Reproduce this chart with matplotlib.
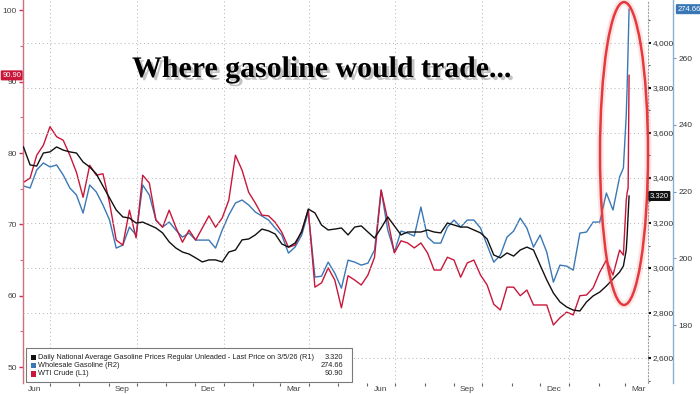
import matplotlib
matplotlib.use("Agg")
import matplotlib.pyplot as plt
import matplotlib.dates as mdates
import matplotlib.ticker as mticker
import matplotlib.patheffects as pe
from matplotlib.patches import Ellipse, Rectangle
import pandas as pd

# ---------------- data ----------------
weekly_start = "2024-06-03"
weekly_end = "2026-02-23"
final_days = ["2026-02-27", "2026-03-02", "2026-03-03", "2026-03-04", "2026-03-05"]

wti_crude = [
    75.9, 76.5, 79.7, 81.1, 83.7, 82.3, 81.8, 79.7, 77.3, 73.8,
    78.3, 76.9, 77.1, 73.0, 67.8, 67.1, 72.0, 68.1, 76.9, 75.8,
    70.6, 69.6, 72.0, 69.6, 67.5, 69.2, 67.8, 69.5, 71.2, 69.6,
    70.9, 73.4, 79.7, 77.6, 74.5, 73.0, 71.3, 71.2, 70.3, 68.9,
    66.8, 67.1, 69.1, 72.0, 61.2, 61.8, 63.9, 62.2, 58.3, 62.8,
    62.2, 61.5, 62.9, 65.4, 74.8, 70.6, 66.0, 67.7, 67.4, 66.7,
    67.4, 66.0, 63.6, 63.6, 65.4, 65.0, 62.6, 64.6, 65.0, 62.9,
    61.5, 58.8, 58.0, 61.2, 61.2, 60.0, 60.8, 58.7, 58.7, 58.7,
    55.9, 56.9, 57.7, 57.3, 60.0, 60.1, 61.1, 63.3, 65.0, 62.9,
    66.4,
    65.7, 73.4, 74.5, 75.1, 90.90,
]

wholesale_gasoline = [
    221.7, 221.1, 226.5, 228.6, 227.4, 228.0, 225.0, 221.1, 219.0, 213.6,
    222.0, 219.9, 216.0, 211.5, 203.1, 204.0, 209.4, 207.0, 222.0, 219.0,
    211.5, 209.4, 210.9, 208.5, 206.4, 207.6, 205.5, 205.5, 205.5, 203.1,
    208.5, 213.0, 216.6, 217.5, 216.0, 213.9, 212.7, 211.5, 209.1, 207.0,
    201.6, 203.4, 207.0, 213.9, 194.4, 194.7, 198.9, 195.6, 191.1, 199.5,
    198.9, 198.0, 198.6, 202.5, 220.5, 208.5, 201.9, 208.2, 207.6, 206.7,
    215.4, 206.4, 204.6, 204.6, 209.4, 211.5, 209.4, 211.5, 211.5, 209.1,
    204.0, 198.9, 201.0, 206.4, 208.2, 212.1, 209.1, 203.4, 207.0, 201.9,
    192.9, 198.0, 197.7, 196.5, 207.6, 207.9, 210.9, 210.9, 219.6, 214.5,
    224.4,
    227.1, 242.9, 251.9, 263.0, 274.66,
]

retail_gasoline = [
    3.538, 3.458, 3.453, 3.511, 3.516, 3.538, 3.524, 3.516, 3.511, 3.471,
    3.449, 3.418, 3.364, 3.311, 3.258, 3.227, 3.222, 3.200, 3.204, 3.191,
    3.178, 3.156, 3.116, 3.089, 3.071, 3.062, 3.045, 3.027, 3.036, 3.036,
    3.027, 3.071, 3.080, 3.125, 3.129, 3.147, 3.173, 3.165, 3.151, 3.107,
    3.093, 3.111, 3.160, 3.262, 3.245, 3.191, 3.169, 3.173, 3.178, 3.147,
    3.182, 3.187, 3.160, 3.133, 3.178, 3.227, 3.187, 3.147, 3.160, 3.160,
    3.160, 3.169, 3.160, 3.156, 3.200, 3.191, 3.182, 3.182, 3.169, 3.156,
    3.129, 3.058, 3.045, 3.067, 3.053, 3.080, 3.093, 3.080, 3.013, 2.947,
    2.889, 2.849, 2.827, 2.813, 2.809, 2.849, 2.876, 2.893, 2.920, 2.951,
    2.982,
    3.009, 3.080, 3.147, 3.236, 3.320,
]

legend_labels = [
    "Daily National Average Gasoline Prices Regular Unleaded - Last Price on 3/5/26 (R1)",
    "Wholesale Gasoline (R2)",
    "WTI Crude (L1)",
]
legend_values = ["3.320", "274.66", "90.90"]
title_text = "Where gasoline would trade..."

dates = pd.date_range(weekly_start, weekly_end, freq="7D").append(pd.to_datetime(final_days))

# ---------------- style ----------------
RED = "#c8173a"
BLUE = "#3a78b5"
BLACK = "#111111"
GRID = "#b4b4b4"
GRID_LS = (0, (1, 3))
FONT = ["Liberation Sans Narrow", "Liberation Sans", "DejaVu Sans"]
plt.rcParams["font.family"] = FONT

fig = plt.figure(figsize=(7, 3.94), dpi=100)
fig.patch.set_facecolor("white")
ax = fig.add_axes([23 / 700, 1 - 383 / 394, 625 / 700, 383 / 394])
ax2 = ax.twinx()
ax3 = ax.twinx()
for a, z in ((ax3, 1), (ax, 2), (ax2, 3)):
    a.set_zorder(z)
    a.patch.set_visible(False)

# lines
ax3.plot(dates, wholesale_gasoline, color=BLUE, lw=1.0)
ax.plot(dates, wti_crude, color=RED, lw=1.0)
ax2.plot(dates, retail_gasoline, color=BLACK, lw=1.0)

ax.set_xlim(pd.Timestamp("2024-06-02 12:00"), pd.Timestamp("2026-03-25"))
ax.set_ylim(47.76, 101.47)
ax2.set_ylim(2.489, 4.191)
ax3.set_ylim(162.7, 277.4)

# spines
for s in ("top", "right", "bottom"):
    ax.spines[s].set_visible(False)
ax.spines["left"].set_color("#cf6f80")
ax.spines["left"].set_linewidth(1.0)
for s in ("top", "left", "bottom"):
    ax2.spines[s].set_visible(False)
    ax3.spines[s].set_visible(False)
ax2.spines["right"].set_color("#a0a0a0")
ax2.spines["right"].set_linestyle((0, (1, 2)))
ax2.spines["right"].set_linewidth(0.8)
ax3.spines["right"].set_position(("outward", 18))
ax3.spines["right"].set_color("#8db0d0")
ax3.spines["right"].set_linewidth(1.0)

# x axis
ax.xaxis.set_major_locator(mdates.MonthLocator(bymonth=[1, 4, 7, 10]))
ax.xaxis.set_minor_locator(mdates.MonthLocator())
ax.xaxis.set_major_formatter(mticker.NullFormatter())
ax.tick_params(axis="x", which="both", length=2.5, width=0.8, color="#666666")
ax.grid(axis="x", which="major", color=GRID, linestyle=GRID_LS, linewidth=0.7)
sec = ax.secondary_xaxis("bottom")
sec.xaxis.set_major_locator(mdates.MonthLocator(bymonth=[3, 6, 9, 12], bymonthday=15))
sec.xaxis.set_major_formatter(mdates.DateFormatter("%b"))
sec.tick_params(length=0, labelsize=6, pad=2.5, labelcolor="#444444")
sec.spines["bottom"].set_visible(False)

# left axis (WTI)
ax.yaxis.set_major_locator(mticker.MultipleLocator(10))
ax.yaxis.set_minor_locator(mticker.MultipleLocator(5))
ax.tick_params(axis="y", which="major", length=3, width=1.0, color="#cf3050",
               labelsize=6, labelcolor="#444444", pad=1.5)
ax.tick_params(axis="y", which="minor", length=2, width=0.8, color="#cf6f80")

# right axis R1 (retail)
ax2.yaxis.set_major_locator(mticker.MultipleLocator(0.2))
ax2.yaxis.set_minor_locator(mticker.MultipleLocator(0.1))
ax2.yaxis.set_major_formatter(mticker.FuncFormatter(lambda v, p: f"{v:.3f}".replace(".", ",")))
ax2.tick_params(axis="y", which="major", length=2.5, width=1.5, color="#111111",
                labelsize=6, labelcolor="#333333", pad=1)
ax2.tick_params(axis="y", which="minor", length=1.5, width=0.8, color="#555555")
ax2.grid(axis="y", which="major", color=GRID, linestyle=GRID_LS, linewidth=0.7)

# right axis R2 (wholesale)
ax3.yaxis.set_major_locator(mticker.MultipleLocator(20))
ax3.yaxis.set_minor_locator(mticker.NullLocator())
ax3.tick_params(axis="y", which="major", length=2.5, width=0.8, color="#6f98c0",
                labelsize=6, labelcolor="#333333", pad=1.5)

# last value tags
ax.text(-0.003, wti_crude[-1], legend_values[2], transform=ax.get_yaxis_transform(),
        ha="right", va="center", color="white", fontsize=5.5, clip_on=False,
        bbox=dict(boxstyle="round,pad=0.2,rounding_size=0.15", fc=RED, ec="none"), zorder=10)
ax2.text(1.003, retail_gasoline[-1], legend_values[0], transform=ax2.get_yaxis_transform(),
         ha="left", va="center", color="white", fontsize=5.5, clip_on=False,
         bbox=dict(boxstyle="round,pad=0.2,rounding_size=0.15", fc=BLACK, ec="none"), zorder=10)
ax3.text(1.047, wholesale_gasoline[-1], legend_values[1], transform=ax3.get_yaxis_transform(),
         ha="left", va="center", color="white", fontsize=5.5, clip_on=False,
         bbox=dict(boxstyle="round,pad=0.2,rounding_size=0.15", fc=BLUE, ec="none"), zorder=10)

# red ellipse annotation (on top axes)
for lw, alpha, col in ((5, 0.18, "#f07070"), (1.8, 1.0, "#e5393d")):
    ax2.add_patch(Ellipse((0.9616, 0.5992), 0.0768, 0.791, transform=ax2.transAxes,
                          fill=False, lw=lw, alpha=alpha, ec=col, clip_on=False, zorder=6))

# legend box
ax2.add_patch(Rectangle((0.0048, 0.0026), 0.5216, 0.0888, transform=ax2.transAxes,
                        fc="white", ec="#7a7a7a", lw=0.8, zorder=7, clip_on=False))
row_y = [0.0671, 0.0452, 0.0235]
for lab, val, col, yy in zip(legend_labels, legend_values, [BLACK, BLUE, RED], row_y):
    ax2.add_patch(Rectangle((0.012, yy - 0.0068), 0.008, 0.0136, transform=ax2.transAxes,
                            fc=col, ec="none", zorder=8))
    ax2.text(0.0245, yy, lab, transform=ax2.transAxes, ha="left", va="center",
             fontsize=5.3, color="#222222", zorder=8)
    ax2.text(0.5125, yy, val, transform=ax2.transAxes, ha="right", va="center",
             fontsize=5.3, color="#222222", zorder=8)

# title
fig.text(0.46, 1 - 77 / 394, title_text, ha="center", va="baseline",
         fontsize=21.5, fontweight="bold", family=["Liberation Serif", "DejaVu Serif"],
         color="black",
         path_effects=[pe.SimplePatchShadow(offset=(2, -2), shadow_rgbFace="#888888", alpha=0.5),
                       pe.Normal()], zorder=20)

fig.savefig("out.png", dpi=100, facecolor="white")
